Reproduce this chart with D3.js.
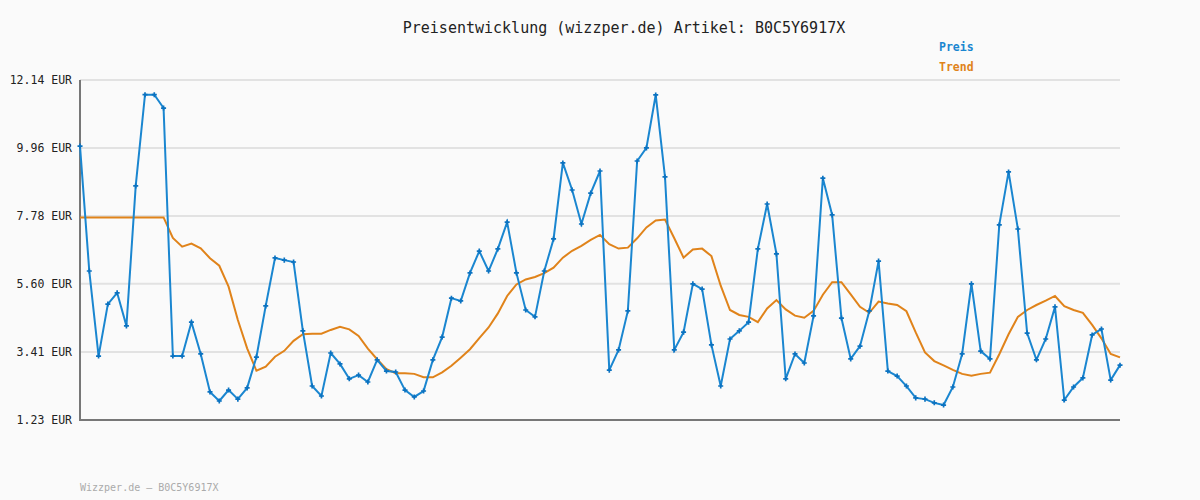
<!DOCTYPE html>
<html><head><meta charset="utf-8">
<script src="https://cdn.jsdelivr.net/npm/d3@7"></script>
<style>body{margin:0;background:#fafafa}svg{display:block}</style>
</head><body><svg id="c" width="1200" height="500"></svg>
<script>
const yTicks=[1.23,3.41,5.60,7.78,9.96,12.14];
const yTickLabels=["1.23 EUR","3.41 EUR","5.60 EUR","7.78 EUR","9.96 EUR","12.14 EUR"];
const preis=[10.02,6.01,3.28,4.95,5.31,4.25,8.74,11.67,11.67,11.24,3.28,3.28,4.37,3.35,2.13,1.84,2.19,1.90,2.26,3.25,4.89,6.43,6.36,6.30,4.09,2.32,2.00,3.38,3.03,2.55,2.67,2.45,3.16,2.80,2.77,2.19,1.97,2.16,3.16,3.89,5.14,5.05,5.95,6.65,6.01,6.72,7.58,5.95,4.76,4.54,6.01,7.04,9.48,8.61,7.52,8.51,9.22,2.83,3.48,4.73,9.54,9.96,11.66,9.03,3.48,4.05,5.60,5.43,3.64,2.32,3.83,4.09,4.37,6.72,8.16,6.56,2.55,3.35,3.06,4.57,8.99,7.81,4.50,3.19,3.60,4.73,6.33,2.80,2.64,2.32,1.94,1.90,1.78,1.71,2.29,3.35,5.60,3.44,3.19,7.49,9.19,7.36,4.02,3.16,3.83,4.86,1.87,2.29,2.58,3.96,4.15,2.51,2.99];
const trend=[7.73,7.73,7.73,7.73,7.73,7.73,7.73,7.73,7.73,7.73,7.07,6.79,6.89,6.74,6.42,6.18,5.51,4.44,3.53,2.81,2.94,3.26,3.45,3.77,3.98,4.00,4.00,4.12,4.22,4.14,3.93,3.52,3.18,2.86,2.73,2.73,2.71,2.60,2.60,2.76,2.97,3.23,3.50,3.86,4.20,4.65,5.21,5.58,5.74,5.82,5.94,6.12,6.44,6.66,6.82,7.01,7.17,6.87,6.73,6.76,7.06,7.41,7.63,7.66,7.06,6.44,6.70,6.73,6.49,5.54,4.76,4.60,4.54,4.37,4.81,5.08,4.78,4.58,4.51,4.73,5.25,5.65,5.65,5.26,4.86,4.67,5.03,4.97,4.92,4.72,4.04,3.40,3.12,2.98,2.84,2.71,2.65,2.71,2.75,3.34,3.98,4.54,4.76,4.92,5.06,5.21,4.88,4.76,4.67,4.28,3.85,3.35,3.24];
const svg=d3.select("#c");
const font="'DejaVu Sans Mono', monospace";
const x=d3.scaleLinear().domain([0,preis.length-1]).range([80,1120]);
const y=d3.scaleLinear().domain([1.23,12.14]).range([420,80]);
svg.append("g").selectAll("line").data(yTicks).join("line")
 .attr("x1",80).attr("x2",1120).attr("y1",d=>y(d)).attr("y2",d=>y(d))
 .attr("stroke","#e2e2e2").attr("stroke-width",2);
const ax=svg.append("g").attr("transform","translate(80,0)")
 .call(d3.axisLeft(y).tickValues(yTicks).tickFormat((d,i)=>yTickLabels[i]).tickSize(0).tickPadding(8));
ax.select(".domain").remove();
ax.selectAll("text").attr("font-family",font).attr("font-size",11.5).attr("fill","#222");
svg.append("line").attr("x1",80).attr("x2",80).attr("y1",80).attr("y2",421).attr("stroke","#777").attr("stroke-width",2);
svg.append("line").attr("x1",80).attr("x2",1120).attr("y1",420).attr("y2",420).attr("stroke","#777").attr("stroke-width",2);
const line=d3.line().x((d,i)=>x(i)).y(d=>y(d));
svg.append("path").datum(trend).attr("d",line).attr("fill","none").attr("stroke","#e0831a").attr("stroke-width",2);
svg.append("path").datum(preis).attr("d",line).attr("fill","none").attr("stroke","#1a86d0").attr("stroke-width",2);
svg.append("g").selectAll("path").data(preis).join("path")
 .attr("d",d3.symbol(d3.symbolCross,14)).attr("transform",(d,i)=>`translate(${x(i)},${y(d)})`).attr("fill","#0b72c0");
svg.append("text").attr("x",624).attr("y",33).attr("text-anchor","middle").attr("font-family",font).attr("font-size",15).attr("fill","#222").text("Preisentwicklung (wizzper.de) Artikel: B0C5Y6917X");
svg.append("text").attr("x",939).attr("y",51).attr("font-family",font).attr("font-size",11.5).attr("font-weight","bold").attr("fill","#1a86d0").text("Preis");
svg.append("text").attr("x",939).attr("y",71).attr("font-family",font).attr("font-size",11.5).attr("font-weight","bold").attr("fill","#e0831a").text("Trend");
svg.append("text").attr("x",80).attr("y",491).attr("font-family",font).attr("font-size",10).attr("fill","#aaa").text("Wizzper.de – B0C5Y6917X");
</script></body></html>
